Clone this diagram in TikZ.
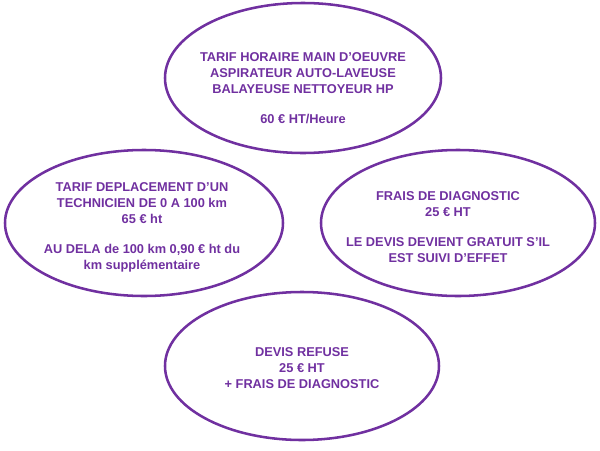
\documentclass[tikz,border=0pt]{standalone}
\usepackage{fontspec}
\setmainfont{Liberation Sans}
\usetikzlibrary{shapes.geometric}
\definecolor{cpurple}{HTML}{7030A0}
\tikzset{
  every picture/.style={font=\bfseries\fontsize{9.6}{12}\selectfont, line width=1.9pt},
  bubble/.style={draw=cpurple, ellipse, inner sep=0pt},
  price/.style={text=cpurple, align=center},
}

\begin{document}
\begin{tikzpicture}[x=0.75pt, y=-0.75pt]
  \useasboundingbox (0,0) rectangle (600,450);
  % Bubbles
  \node[bubble, minimum width=207pt, minimum height=112.5pt] (horaire) at (303,78) {};
  \node[bubble, minimum width=208.5pt, minimum height=109.5pt] (deplacement) at (144,223) {};
  \node[bubble, minimum width=205.5pt, minimum height=109.5pt] (diagnostic) at (458,223) {};
  \node[bubble, minimum width=205.5pt, minimum height=111pt] (refuse) at (302,366) {};
  % Texts
  \node[price] (horaire text) at (303,88) {TARIF HORAIRE MAIN D’OEUVRE\\ ASPIRATEUR AUTO-LAVEUSE\\ BALAYEUSE NETTOYEUR HP\\[10.5pt] 60 € HT/Heure};
  \node[price] (deplacement text) at (142,227) {TARIF DEPLACEMENT D’UN\\ TECHNICIEN DE 0 A 100 km\\ 65 € ht\\[10.5pt] AU DELA de 100 km 0,90 € ht du\\ km supplémentaire};
  \node[price] (diagnostic text) at (448,227) {FRAIS DE DIAGNOSTIC\\ 25 € HT\\[10.5pt] LE DEVIS DEVIENT GRATUIT S’IL\\ EST SUIVI D’EFFET};
  \node[price] (refuse text) at (302,368) {DEVIS REFUSE\\ 25 € HT\\ + FRAIS DE DIAGNOSTIC};
\end{tikzpicture}
\end{document}
